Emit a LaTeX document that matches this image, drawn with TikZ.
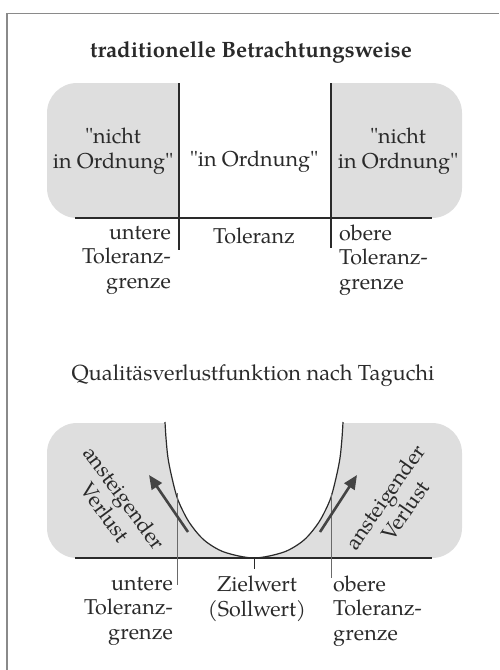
\documentclass[tikz,border=0pt]{standalone}
\usepackage{fontspec}
\setmainfont{TeX Gyre Pagella}
\newfontfamily\qf{TeX Gyre Pagella}
\newcommand{\dq}{{\qf"}}
\usetikzlibrary{arrows.meta}
\definecolor{ink}{HTML}{2A2A2A}
\definecolor{bggray}{HTML}{DEDEDE}
\definecolor{framec}{HTML}{8A8A8A}
\definecolor{tolc}{HTML}{6A6A6A}
\definecolor{arrc}{HTML}{444444}
\tikzset{
  txt/.style={inner sep=0pt, text=ink, font=\fontsize{21.5}{24.5}\selectfont},
  ttl/.style={inner sep=0pt, text=ink},
  mainline/.style={draw=ink, line width=1.3pt},
  tolline/.style={draw=tolc, line width=1pt},
  lossarrow/.style={draw=arrc, line width=2.6pt, -{Triangle[length=14pt,width=12pt]}},
}
\begin{document}
\begin{tikzpicture}[x=1pt,y=-1pt]
\useasboundingbox (0,0) rectangle (499,670);
% frame
\draw[framec, line width=1.6pt] (7,670) -- (7,13.5) -- (499,13.5);

% ---------- top section ----------
\node[ttl, font=\bfseries\fontsize{22.2}{24}\selectfont] (t1) at (251,52) {traditionelle Betrachtungsweise};
\fill[bggray, rounded corners=30pt] (47,83) rectangle (462,218);
\fill[white] (179,80) rectangle (331,221);
\coordinate (ll) at (179,83); \coordinate (llb) at (179,250);
\coordinate (rl) at (331,83); \coordinate (rlb) at (331,248);
\coordinate (ha) at (75,218); \coordinate (hb) at (432,218);
\draw[mainline] (ll) -- (llb);
\draw[mainline] (rl) -- (rlb);
\draw[mainline] (ha) -- (hb);
\node[txt, align=center] (nio1) at (113,151) {\dq nicht\\in Ordnung\dq};
\node[txt] (io) at (254,162) {\dq in Ordnung\dq};
\node[txt, align=center] (nio2) at (398,151) {\dq nicht\\in Ordnung\dq};
\node[txt, align=right, anchor=east] (utg1) at (171,260) {untere\\Toleranz-\\grenze};
\node[txt] (tol) at (254,236) {Toleranz};
\node[txt, align=left, anchor=west] (otg1) at (339,260) {obere\\Toleranz-\\grenze};

% ---------- bottom section ----------
\node[ttl, font=\fontsize{21.8}{24}\selectfont] (t2) at (253,376) {Qualitäsverlustfunktion nach Taguchi};
\fill[bggray, rounded corners=30pt] (47,423) rectangle (462,558);
\fill[white] plot[smooth] coordinates {(165,422) (166,438) (168,458) (172,478) (178,500) (189,522) (204,540) (224,552) (254,558) (284,552) (304,540) (319,522) (330,500) (336,478) (340,458) (342,438) (343,422)} -- cycle;
\fill[white] (150,400) rectangle (360,422.5);
\coordinate (ax) at (75,558); \coordinate (bx) at (432,558);
\draw[mainline] (ax) -- (bx);
\draw[draw=ink, line width=1.2pt] plot[smooth] coordinates {(165,422) (166,438) (168,458) (172,478) (178,500) (189,522) (204,540) (224,552) (254,558) (284,552) (304,540) (319,522) (330,500) (336,478) (340,458) (342,438) (343,422)};
\coordinate (ut) at (177,493); \coordinate (ub) at (177,585);
\coordinate (ot) at (331,493); \coordinate (ob) at (331,578);
\coordinate (zt) at (254,558); \coordinate (zb) at (254,569);
\draw[tolline] (ut) -- (ub);
\draw[tolline] (ot) -- (ob);
\draw[mainline, line width=1pt] (zt) -- (zb);
\coordinate (a1s) at (188,532); \coordinate (a1e) at (149,475);
\coordinate (a2s) at (320,532); \coordinate (a2e) at (357,475);
\draw[lossarrow] (a1s) -- (a1e);
\draw[lossarrow] (a2s) -- (a2e);
\node[txt, align=center, rotate=-53.5] (av1) at (115,505) {ansteigender\\Verlust};
\node[txt, align=center, rotate=55] (av2) at (395,504) {ansteigender\\Verlust};
\node[txt, align=right, anchor=east] (utg2) at (173,611) {untere\\Toleranz-\\grenze};
\node[txt, align=center] (zw) at (257,599) {Zielwert\\(Sollwert)};
\node[txt, align=left, anchor=west] (otg2) at (333,611) {obere\\Toleranz-\\grenze};
\end{tikzpicture}
\end{document}
